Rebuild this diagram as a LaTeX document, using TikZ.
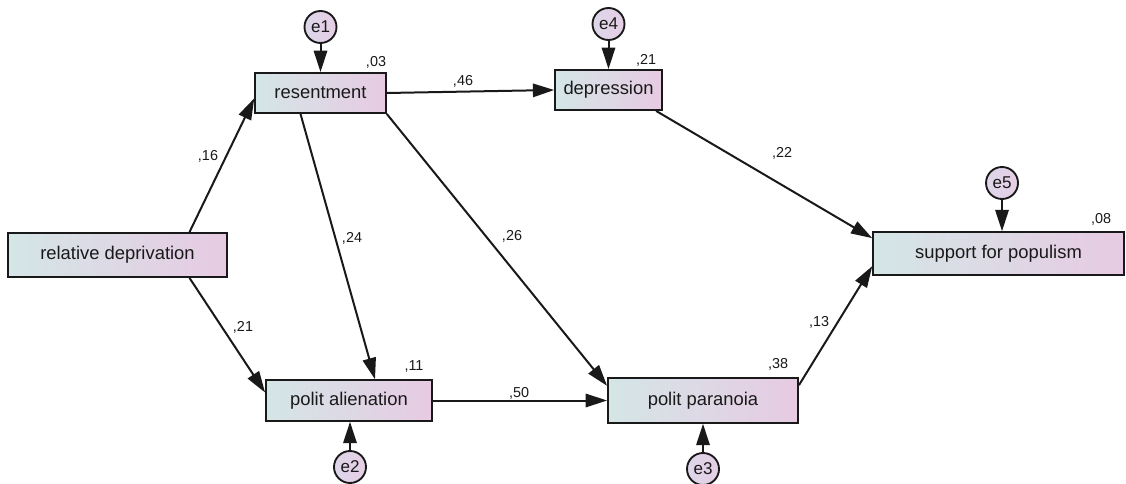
\documentclass[tikz,border=0pt]{standalone}
\usepackage{fontspec}
\setmainfont{Liberation Sans}
\usetikzlibrary{arrows.meta,positioning}
\definecolor{boxleft}{RGB}{212,230,230}
\definecolor{boxright}{RGB}{231,202,227}
\definecolor{errleft}{RGB}{222,214,234}
\definecolor{errright}{RGB}{230,206,228}
\definecolor{ink}{RGB}{25,25,25}

\tikzset{
  var/.style={draw=ink,line width=1.4pt,left color=boxleft,right color=boxright,
    inner sep=0pt,text=ink,font=\fontsize{13.8}{16}\selectfont},
  err/.style={circle,draw=ink,line width=1.4pt,left color=errleft,right color=errright,
    minimum size=24pt,inner sep=0pt,text=ink,font=\fontsize{12.8}{15}\selectfont},
  eff/.style={-{Triangle[length=16pt,width=10pt]},line width=1.5pt,draw=ink},
  coef/.style={inner sep=0pt,text=ink,font=\fontsize{10.8}{12}\selectfont}
}

\begin{document}
\begin{tikzpicture}[x=0.75pt,y=-0.75pt]
\useasboundingbox (0,0) rectangle (1126,484);
% observed variables
\node[var,minimum width=164pt,minimum height=33pt] (rd) at (117.5,255) {relative deprivation};
\node[var,minimum width=98pt,minimum height=30pt] (res) at (320.5,93) {resentment};
\node[var,minimum width=124.5pt,minimum height=30.5pt] (alien) at (349,400.5) {polit alienation};
\node[var,minimum width=142.5pt,minimum height=33.5pt] (para) at (703,400.5) {polit paranoia};
\node[var,minimum width=80pt,minimum height=30pt] (dep) at (608.5,90) {depression};
\node[var,minimum width=188pt,minimum height=32pt] (pop) at (998.5,253.5) {support for populism};
% residuals
\node[err] (e1) at (320.5,27) {e1};
\node[err] (e4) at (608.5,24) {e4};
\node[err] (e5) at (1002,183) {e5};
\node[err] (e2) at (350,467) {e2};
\node[err] (e3) at (703,469) {e3};
% paths
\draw[eff] ([xshift=54pt]rd.north) -- ([yshift=-4pt]res.west);
\draw[eff] ([xshift=54pt]rd.south) -- ([yshift=6pt]alien.west);
\draw[eff] ([xshift=-15pt]res.south) -- ([xshift=19.5pt]alien.north);
\draw[eff] (res.south east) -- ([yshift=11pt]para.west);
\draw[eff] (res.east) -- (dep.west);
\draw[eff] (alien.east) -- (para.west);
\draw[eff] ([xshift=-5pt]dep.south east) -- ([yshift=11.5pt]pop.west);
\draw[eff] ([yshift=11.5pt]para.east) -- ([yshift=-9.5pt]pop.west);
\draw[eff] (e1) -- (res);
\draw[eff] (e4) -- (dep);
\draw[eff] (e5.south) -- (e5.south |- pop.north);
\draw[eff] (e2) -- (e2 |- alien.south);
\draw[eff] (e3) -- (para);
% estimates
\node[coef] (c16) at (208,156) {,16};
\node[coef] (c21a) at (243,327) {,21};
\node[coef] (c24) at (352,238) {,24};
\node[coef] (c26) at (512,236) {,26};
\node[coef] (c46) at (463,81) {,46};
\node[coef] (c50) at (519,393) {,50};
\node[coef] (c22) at (782,153) {,22};
\node[coef] (c13) at (819,322) {,13};
\node[coef] (r03) at (376,62) {,03};
\node[coef] (r21) at (646,60) {,21};
\node[coef] (r11) at (414,366) {,11};
\node[coef] (r38) at (778,364) {,38};
\node[coef] (r08) at (1101,219) {,08};
\end{tikzpicture}
\end{document}
